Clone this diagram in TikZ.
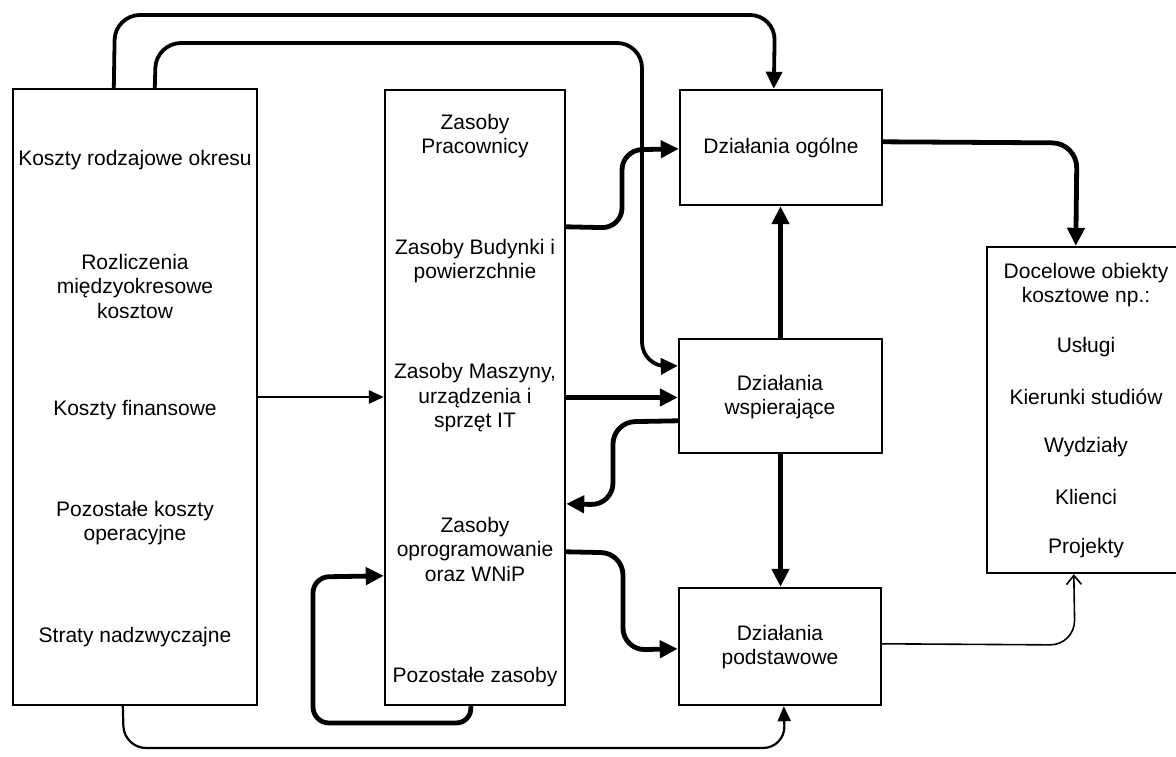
\documentclass[tikz,border=0pt]{standalone}
\usepackage{fontspec}
\setmainfont{Liberation Sans}
\usetikzlibrary{arrows.meta,calc}
\begin{document}
\begin{tikzpicture}[x=1pt,y=-1pt,
  box/.style={draw, line width=2.4pt, inner sep=0pt},
  lbl/.style={align=center, inner sep=0pt, font=\fontsize{21}{24.5}\selectfont},
  thick arrow/.style={line width=4.8pt, line join=round, -{Triangle[length=18pt,width=17pt]}},
  med arrow/.style={line width=3.8pt, line join=round, -{Triangle[length=17pt,width=16pt]}},
  fin arrow/.style={line width=2.8pt, -{Triangle[length=15pt,width=13pt]}},
  thin arrow/.style={line width=2.2pt, line join=round, -{Triangle[length=15pt,width=13pt]}},
  open arrow/.style={line width=1.6pt, line join=round, -{Straight Barb[length=9pt,width=15pt,line width=1.6pt]}}
]
\useasboundingbox (0,0) rectangle (1176,757);
\clip (0,0) rectangle (1176,757);
\fill[white] (0,0) rectangle (1176,757);

% boxes
\node[box, minimum width=244pt, minimum height=616pt] (lb) at (135,397) {};
\node[box, minimum width=180pt, minimum height=615pt] (mb) at (475,397.5) {};
\node[box, minimum width=202pt, minimum height=115pt] (og) at (781,147.5) {};
\node[box, minimum width=203pt, minimum height=114pt] (ws) at (780.5,396) {};
\node[box, minimum width=202pt, minimum height=117pt] (pd) at (780,646.5) {};
\node[box, minimum width=198pt, minimum height=326pt] (rb) at (1086,410) {};

% left box texts
\node[lbl] (l1) at (135,160) {Koszty rodzajowe okresu};
\node[lbl] (l2) at (135,286) {Rozliczenia\\międzyokresowe\\kosztow};
\node[lbl] (l3) at (135,410) {Koszty finansowe};
\node[lbl] (l4) at (135,523) {Pozostałe koszty\\operacyjne};
\node[lbl] (l5) at (135,637) {Straty nadzwyczajne};

% middle box texts
\node[lbl] (m1) at (475,136) {Zasoby\\Pracownicy};
\node[lbl] (m2) at (475,261) {Zasoby Budynki i\\powierzchnie};
\node[lbl] (m3) at (475,398) {Zasoby Maszyny,\\urządzenia i\\sprzęt IT};
\node[lbl] (m4) at (475,549) {Zasoby\\oprogramowanie\\oraz WNiP};
\node[lbl] (m5) at (475,677) {Pozostałe zasoby};

% activity texts
\node[lbl] (t1) at (781,148) {Działania ogólne};
\node[lbl] (t2) at (780,397) {Działania\\wspierające};
\node[lbl] (t3) at (780,647) {Działania\\podstawowe};

% right box texts
\node[lbl] (r1) at (1086,285) {Docelowe obiekty\\kosztowe np.:};
\node[lbl] (r2) at (1086,347) {Usługi};
\node[lbl] (r3) at (1086,397) {Kierunki studiów};
\node[lbl] (r4) at (1086,447) {Wydziały};
\node[lbl] (r5) at (1086,497) {Klienci};
\node[lbl] (r6) at (1086,548) {Projekty};

% connectors
\draw[med arrow, rounded corners=25pt] ($(lb.north west)+(102,0)$) -- (115,15) -- (775,15) -- ($(og.north west)+(95,0)$);
\draw[med arrow, rounded corners=25pt] ($(lb.north west)+(143,0)$) -- (156,43) -- (642,43) -- (642,367) -- ($(ws.north west)+(0,28)$);
\draw[thick arrow, rounded corners=20pt] ($(mb.north east)+(0,138)$) -- (622,228) -- (622,150) -- ($(og.north west)+(0,60)$);
\draw[fin arrow] (lb.east) -- (lb.east -| mb.west);
\draw[thick arrow] (mb.east) -- (mb.east -| ws.west);
\draw[thick arrow, rounded corners=22pt] ($(ws.north west)+(0,83)$) -- (613,422) -- (613,505) -- ($(mb.north east)+(0,415)$);
\draw[thick arrow, rounded corners=22pt] ($(mb.north east)+(0,463)$) -- (623,553) -- (623,650) -- ($(pd.north west)+(0,62)$);
\draw[thick arrow] (ws.south) -- (ws.south |- pd.north);
\draw[thick arrow] (ws.north) -- (ws.north |- og.south);
\draw[thick arrow, rounded corners=25pt] ($(og.north east)+(0,53)$) -- (1077,143) -- ($(rb.north west)+(90,0)$);
\draw[open arrow, rounded corners=25pt] ($(pd.north east)+(0,57)$) -- (1075,645) -- ($(rb.south west)+(88,0)$);
\draw[thin arrow, rounded corners=22pt] ($(lb.south west)+(111,0)$) -- (124,748) -- (785,748) -- ($(pd.south west)+(106,0)$);
\draw[thick arrow, rounded corners=16pt] ($(mb.south west)+(87,0)$) -- (472,723) -- (313,723) -- (313,577) -- ($(mb.north west)+(0,487)$);
\end{tikzpicture}
\end{document}
